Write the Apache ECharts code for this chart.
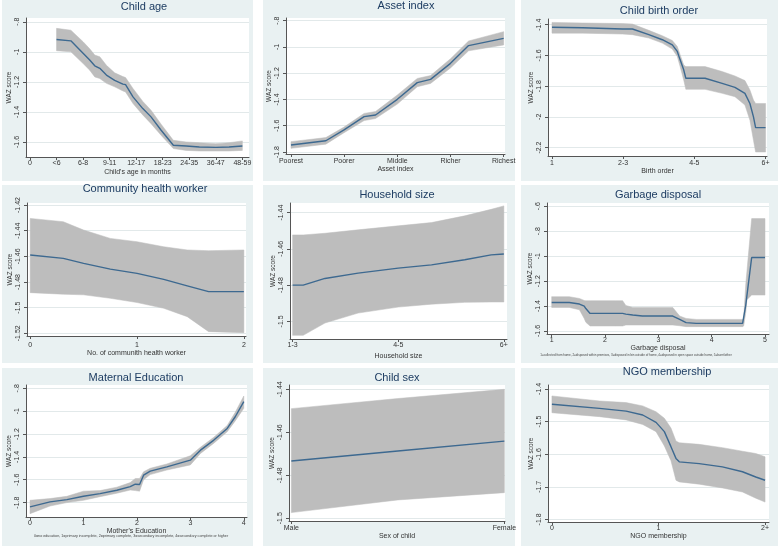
<!DOCTYPE html>
<html><head><meta charset="utf-8">
<script src="https://cdn.jsdelivr.net/npm/echarts@6/dist/echarts.min.js"></script>
<style>html,body{margin:0;padding:0;background:#fff;}#c{width:778px;height:549px;}</style>
</head><body><div id="c"></div>
<script>
// ---------- DATA ----------
const ageX    = [1, 1.54, 2.0, 2.25, 2.44, 2.63, 2.88, 3.19, 3.5, 3.6, 3.88, 4.25, 4.56, 4.94, 5.4, 5.88, 6.38, 7.0, 7.5, 8];
const ageMean = [-0.918, -0.927, -1.01, -1.055, -1.093, -1.11, -1.155, -1.19, -1.215, -1.218, -1.3, -1.378, -1.433, -1.522, -1.622, -1.627, -1.633, -1.636, -1.633, -1.627];
const ageHi   = [-0.844, -0.856, -0.933, -0.98, -1.022, -1.033, -1.09, -1.14, -1.165, -1.171, -1.244, -1.33, -1.389, -1.482, -1.589, -1.6, -1.605, -1.611, -1.605, -1.593];
const ageLo   = [-0.993, -1.0, -1.078, -1.122, -1.167, -1.178, -1.21, -1.233, -1.26, -1.267, -1.344, -1.42, -1.478, -1.556, -1.644, -1.656, -1.66, -1.66, -1.66, -1.656];
const ageTickVals   = [0, 1, 2, 3, 4, 5, 6, 7, 8];
const ageTickLabels = ['0', '<6', '6-8', '9-11', '12-17', '18-23', '24-35', '36-47', '48-59'];
const ageYTicks = [-1.6, -1.4, -1.2, -1, -0.8];

const assetX    = [1, 1.656, 1.99, 2.375, 2.59, 3.0, 3.375, 3.625, 4.0, 4.34, 5];
const assetMean = [-1.747, -1.714, -1.633, -1.531, -1.518, -1.399, -1.272, -1.247, -1.125, -0.990, -0.935];
const assetHi   = [-1.721, -1.690, -1.612, -1.506, -1.492, -1.366, -1.240, -1.218, -1.090, -0.955, -0.884];
const assetLo   = [-1.772, -1.740, -1.655, -1.561, -1.545, -1.435, -1.303, -1.278, -1.160, -1.030, -0.985];
const assetTickVals   = [1, 2, 3, 4, 5];
const assetTickLabels = ['Poorest', 'Poorer', 'Middle', 'Richer', 'Richest'];
const assetYTicks = [-1.8, -1.6, -1.4, -1.2, -1, -0.8];

const birthX    = [1, 1.43, 1.99, 2.13, 2.36, 2.55, 2.69, 2.76, 2.80, 2.85, 2.88, 3.15, 3.39, 3.57, 3.71, 3.78, 3.83, 3.86, 4];
const birthMean = [-1.417, -1.42, -1.428, -1.428, -1.465, -1.498, -1.531, -1.574, -1.629, -1.694, -1.749, -1.749, -1.782, -1.808, -1.847, -1.913, -2.0, -2.07, -2.07];
const birthHi   = [-1.385, -1.389, -1.393, -1.396, -1.437, -1.472, -1.503, -1.542, -1.596, -1.662, -1.673, -1.673, -1.705, -1.734, -1.764, -1.825, -1.891, -1.913, -1.913];
const birthLo   = [-1.455, -1.455, -1.461, -1.465, -1.487, -1.52, -1.559, -1.607, -1.673, -1.76, -1.821, -1.821, -1.847, -1.869, -1.923, -2.022, -2.153, -2.229, -2.229];
const birthTickVals   = [1, 2, 3, 4];
const birthTickLabels = ['1', '2-3', '4-5', '6+'];
const birthYTicks = [-2.2, -2, -1.8, -1.6, -1.4];

const chwX    = [0, 0.31, 0.5, 0.75, 1, 1.25, 1.47, 1.67, 2];
const chwMean = [-1.459, -1.4616, -1.4655, -1.470, -1.4733, -1.478, -1.483, -1.4875, -1.4875];
const chwHi   = [-1.4304, -1.433, -1.4395, -1.446, -1.4486, -1.4525, -1.455, -1.4556, -1.455];
const chwLo   = [-1.4883, -1.4895, -1.490, -1.4927, -1.496, -1.5005, -1.507, -1.5187, -1.5195];
const chwTickVals   = [0, 1, 2];
const chwTickLabels = ['0', '1', '2'];
const chwYTicks = [-1.52, -1.5, -1.48, -1.46, -1.44, -1.42];

const hhX    = [1, 1.1, 1.306, 1.62, 2.0, 2.315, 2.63, 2.88, 3];
const hhMean = [-1.48, -1.48, -1.4763, -1.4734, -1.4706, -1.4688, -1.466, -1.4633, -1.4628];
const hhHi   = [-1.4523, -1.4523, -1.4514, -1.4495, -1.4473, -1.4455, -1.4418, -1.4382, -1.4363];
const hhLo   = [-1.5077, -1.5077, -1.5009, -1.4954, -1.4921, -1.4905, -1.4895, -1.4893, -1.4893];
const hhTickVals   = [1, 2, 3];
const hhTickLabels = ['1-3', '4-5', '6+'];
const hhYTicks = [-1.5, -1.48, -1.46, -1.44];

const garbX    = [1, 1.33, 1.52, 1.61, 1.64, 1.72, 2.2, 2.33, 2.39, 2.52, 2.7, 3.27, 3.4, 3.52, 3.71, 4.58, 4.6, 4.64, 4.66, 4.75, 5];
const garbMean = [-1.371, -1.371, -1.384, -1.40, -1.42, -1.459, -1.459, -1.459, -1.465, -1.472, -1.48, -1.48, -1.507, -1.533, -1.539, -1.539, -1.525, -1.39, -1.32, -1.011, -1.011];
const garbHi   = [-1.325, -1.325, -1.339, -1.355, -1.357, -1.357, -1.357, -1.357, -1.395, -1.411, -1.411, -1.411, -1.480, -1.499, -1.507, -1.507, -1.50, -1.222, -1.127, -0.699, -0.699];
const garbLo   = [-1.411, -1.411, -1.43, -1.50, -1.53, -1.56, -1.56, -1.56, -1.552, -1.552, -1.552, -1.552, -1.558, -1.565, -1.565, -1.565, -1.56, -1.45, -1.35, -1.312, -1.312];
const garbTickVals   = [1, 2, 3, 4, 5];
const garbTickLabels = ['1', '2', '3', '4', '5'];
const garbYTicks = [-1.6, -1.4, -1.2, -1, -0.8, -0.6];

const eduX    = [0, 0.375, 0.69, 1.0, 1.31, 1.625, 1.875, 1.97, 2.05, 2.125, 2.25, 2.56, 3.0, 3.19, 3.44, 3.69, 3.84, 4];
const eduMean = [-1.838, -1.794, -1.774, -1.744, -1.721, -1.692, -1.66, -1.639, -1.642, -1.56, -1.525, -1.487, -1.429, -1.341, -1.253, -1.151, -1.049, -0.917];
const eduHi   = [-1.78, -1.765, -1.745, -1.70, -1.695, -1.665, -1.625, -1.589, -1.589, -1.530, -1.500, -1.462, -1.39, -1.315, -1.228, -1.125, -1.01, -0.867];
const eduLo   = [-1.897, -1.83, -1.80, -1.78, -1.748, -1.718, -1.69, -1.695, -1.70, -1.60, -1.555, -1.515, -1.47, -1.37, -1.28, -1.18, -1.085, -0.975];
const eduTickVals   = [0, 1, 2, 3, 4];
const eduTickLabels = ['0', '1', '2', '3', '4'];
const eduYTicks = [-1.8, -1.6, -1.4, -1.2, -1, -0.8];

const sexX    = [0, 0.5, 1];
const sexMean = [-1.4734, -1.46875, -1.4641];
const sexHi   = [-1.449, -1.4443, -1.44];
const sexLo   = [-1.4974, -1.4915, -1.4881];
const sexTickVals   = [0, 1];
const sexTickLabels = ['Male', 'Female'];
const sexYTicks = [-1.5, -1.48, -1.46, -1.44];

const ngoX    = [0, 0.446, 0.696, 0.852, 0.977, 1.055, 1.117, 1.164, 1.195, 1.382, 1.6, 1.788, 1.913, 2];
const ngoMean = [-1.447, -1.4595, -1.468, -1.48, -1.5026, -1.531, -1.577, -1.613, -1.6236, -1.629, -1.639, -1.654, -1.67, -1.68];
const ngoHi   = [-1.4215, -1.437, -1.442, -1.452, -1.47, -1.49, -1.52, -1.56, -1.565, -1.57, -1.58, -1.591, -1.598, -1.608];
const ngoLo   = [-1.473, -1.485, -1.495, -1.509, -1.531, -1.575, -1.62, -1.68, -1.685, -1.692, -1.7036, -1.716, -1.735, -1.747];
const ngoTickVals   = [0, 1, 2];
const ngoTickLabels = ['0', '1', '2+'];
const ngoYTicks = [-1.8, -1.7, -1.6, -1.5, -1.4];

const titles = ['Child age', 'Asset index', 'Child birth order', 'Community health worker', 'Household size',
                'Garbage disposal', 'Maternal Education', 'Child sex', 'NGO membership'];
const xNames = ["Child's age in months", 'Asset index', 'Birth order', 'No. of communith health worker', 'Household size',
                'Garbage disposal', "Mother's Education", 'Sex of child', 'NGO membership'];
const yName = 'WAZ score';
const garbNote = '1=collected from home, 2=disposed within premises, 3=disposed in bin outside of home, 4=disposed in open space outside home, 5=burnt/other';
const eduNote = '0=no education, 1=primary incomplete, 2=primary complete, 3=secondary incomplete, 4=secondary complete or higher';

// ---------- LAYOUT / STYLE ----------
const BAND = '#bdbdbd', LINE = '#3d6990', BG = '#e9f1f2', TITLE = '#1d3c62', TXT = '#333', AX = '#555', GRIDC = '#e2e9ea';
const FONT = '"Liberation Sans", Arial, sans-serif';

const panels = [
  {x: ageX, m: ageMean, lo: ageLo, hi: ageHi, tv: ageTickVals, tl: ageTickLabels, yt: ageYTicks,
   bg: [2, 0, 251, 181], g: [26, 18, 223, 139], t: [144, 7], xr: [-0.15, 8.25], yr: [-1.70, -0.775], lm: 3, ng: 12},
  {x: assetX, m: assetMean, lo: assetLo, hi: assetHi, tv: assetTickVals, tl: assetTickLabels, yt: assetYTicks,
   bg: [263, 0, 252, 181], g: [286, 18, 219, 136], t: [406, 6], xr: [0.906, 5.025], yr: [-1.815, -0.78], lm: 4, ng: 10},
  {x: birthX, m: birthMean, lo: birthLo, hi: birthHi, tv: birthTickVals, tl: birthTickLabels, yt: birthYTicks,
   bg: [521, 0, 257, 181], g: [548, 19, 219, 137], t: [659, 11], xr: [0.944, 4.02], yr: [-2.255, -1.363], lm: 3.5, ng: 9},
  {x: chwX, m: chwMean, lo: chwLo, hi: chwHi, tv: chwTickVals, tl: chwTickLabels, yt: chwYTicks,
   bg: [2, 185, 251, 178], g: [27, 203, 219, 133], t: [145, 189], xr: [-0.03, 2.02], yr: [-1.5221, -1.4184], lm: 5.5, ng: 13},
  {x: hhX, m: hhMean, lo: hhLo, hi: hhHi, tv: hhTickVals, tl: hhTickLabels, yt: hhYTicks,
   bg: [263, 185, 252, 178], g: [290, 203, 217, 136], t: [397, 195], xr: [0.975, 3.03], yr: [-1.5097, -1.4347], lm: 3, ng: 14},
  {x: garbX, m: garbMean, lo: garbLo, hi: garbHi, tv: garbTickVals, tl: garbTickLabels, yt: garbYTicks,
   bg: [521, 185, 257, 178], g: [547, 203, 222, 131], t: [658, 195], xr: [0.912, 5.075], yr: [-1.624, -0.574], lm: 3, ng: 9,
   note: garbNote, noteAt: [636, 355], noteSize: 3.0},
  {x: eduX, m: eduMean, lo: eduLo, hi: eduHi, tv: eduTickVals, tl: eduTickLabels, yt: eduYTicks,
   bg: [2, 368, 251, 178], g: [26, 385, 221, 132], t: [136, 378], xr: [-0.075, 4.06], yr: [-1.926, -0.771], lm: 3, ng: 8.5,
   note: eduNote, noteAt: [131, 536], noteSize: 3.7},
  {x: sexX, m: sexMean, lo: sexLo, hi: sexHi, tv: sexTickVals, tl: sexTickLabels, yt: sexYTicks,
   bg: [263, 368, 252, 178], g: [289, 385, 216, 136], t: [397, 378], xr: [-0.011, 1.003], yr: [-1.5013, -1.438], lm: 4, ng: 10},
  {x: ngoX, m: ngoMean, lo: ngoLo, hi: ngoHi, tv: ngoTickVals, tl: ngoTickLabels, yt: ngoYTicks,
   bg: [521, 368, 257, 178], g: [548, 385, 221, 137], t: [667, 372], xr: [-0.037, 2.037], yr: [-1.808, -1.388], lm: 3, ng: 10}
];

function fmtY(v) {
  const s = String(+(+v).toFixed(4));
  return s.replace(/^-0\./, '-.').replace(/^0\./, '.');
}

const option = {animation: false, backgroundColor: '#fff', grid: [], xAxis: [], yAxis: [], series: [], graphic: []};

panels.forEach((p, i) => {
  option.graphic.push({type: 'rect', z: -10, silent: true,
    shape: {x: p.bg[0], y: p.bg[1], width: p.bg[2], height: p.bg[3]}, style: {fill: BG}});
  option.graphic.push({type: 'text', z: 10, silent: true, x: p.t[0], y: p.t[1],
    style: {text: titles[i], fill: TITLE, font: '11px ' + FONT, align: 'center', verticalAlign: 'middle'}});
  if (p.note) {
    option.graphic.push({type: 'text', z: 10, silent: true, x: p.noteAt[0], y: p.noteAt[1],
      style: {text: p.note, fill: '#444', font: p.noteSize + 'px ' + FONT, align: 'center', verticalAlign: 'middle'}});
  }
  option.grid.push({left: p.g[0], top: p.g[1], width: p.g[2], height: p.g[3], show: true,
    backgroundColor: '#fff', borderWidth: 0, containLabel: false});
  option.xAxis.push({gridIndex: i, type: 'value', min: p.xr[0], max: p.xr[1],
    name: xNames[i], nameLocation: 'middle', nameGap: p.ng,
    nameTextStyle: {fontSize: 7, color: TXT, fontFamily: FONT},
    axisLine: {show: true, onZero: false, lineStyle: {color: AX, width: 1}},
    axisTick: {show: true, inside: false, length: 3, customValues: p.tv, lineStyle: {color: AX, width: 1}},
    axisLabel: {customValues: p.tv, fontSize: 7, color: TXT, fontFamily: FONT, margin: p.lm,
      formatter: (v) => { let k = 0, d = 1e9; p.tv.forEach((t, j) => { if (Math.abs(t - v) < d) { d = Math.abs(t - v); k = j; } }); return p.tl[k]; }},
    splitLine: {show: false}});
  option.yAxis.push({gridIndex: i, type: 'value', min: p.yr[0], max: p.yr[1],
    name: yName, nameLocation: 'middle', nameGap: 11, nameRotate: 90,
    nameTextStyle: {fontSize: 6.5, color: TXT, fontFamily: FONT},
    axisLine: {show: true, onZero: false, lineStyle: {color: AX, width: 1}},
    axisTick: {show: true, inside: false, length: 3, customValues: p.yt, lineStyle: {color: AX, width: 1}},
    axisLabel: {customValues: p.yt, rotate: 90, fontSize: 7, color: TXT, fontFamily: FONT, margin: 5, formatter: fmtY},
    splitLine: {show: true, lineStyle: {color: GRIDC, width: 1}}});
  option.series.push({type: 'custom', xAxisIndex: i, yAxisIndex: i, z: 2, silent: true,
    data: p.x.map((x, k) => [x, p.lo[k], p.hi[k]]), encode: {x: 0, y: [1, 2]},
    renderItem: (params, api) => {
      if (params.dataIndex !== 0) return null;
      const pts = [];
      for (let k = 0; k < p.x.length; k++) pts.push(api.coord([p.x[k], p.hi[k]]));
      for (let k = p.x.length - 1; k >= 0; k--) pts.push(api.coord([p.x[k], p.lo[k]]));
      return {type: 'polygon', shape: {points: pts}, style: {fill: BAND, stroke: BAND, lineWidth: 0.5}};
    }});
  option.series.push({type: 'line', xAxisIndex: i, yAxisIndex: i, z: 3, silent: true,
    data: p.x.map((x, k) => [x, p.m[k]]), showSymbol: false, symbol: 'none',
    lineStyle: {color: LINE, width: 1.4}});
});

const chart = echarts.init(document.getElementById('c'), null, {renderer: 'canvas'});
chart.setOption(option);
</script></body></html>
